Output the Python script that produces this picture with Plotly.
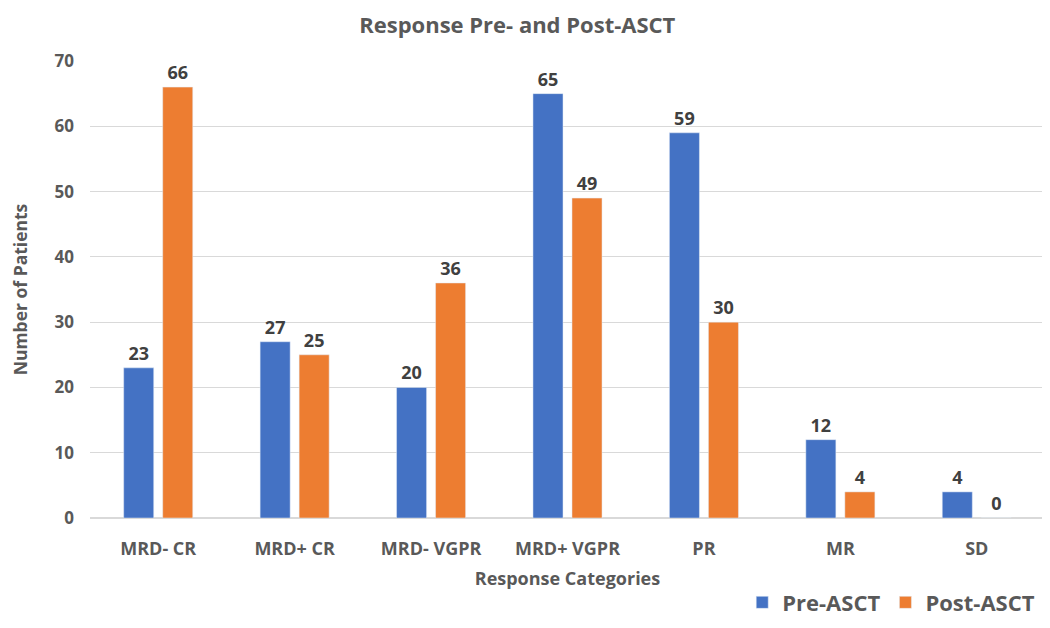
import plotly.graph_objects as go

categories = ["MRD- CR", "MRD+ CR", "MRD- VGPR", "MRD+ VGPR", "PR", "MR", "SD"]
pre_asct = [23, 27, 20, 65, 59, 12, 4]
post_asct = [66, 25, 36, 49, 30, 4, 0]

FONT = "Open Sans"
GRAY = "#595959"

fig = go.Figure()
fig.add_trace(go.Bar(name="<b>Pre-ASCT</b>", x=categories, y=pre_asct, marker_color="#4472C4",
                     text=pre_asct, textposition="outside", cliponaxis=False,
                     textfont=dict(family=FONT, size=18, color="#404040", weight="bold")))
fig.add_trace(go.Bar(name="<b>Post-ASCT</b>", x=categories, y=post_asct, marker_color="#ED7D31",
                     text=post_asct, textposition="outside", cliponaxis=False,
                     textfont=dict(family=FONT, size=18, color="#404040", weight="bold")))

fig.update_layout(
    width=1050, height=628,
    margin=dict(l=82, r=13, t=53, b=108),
    paper_bgcolor="white", plot_bgcolor="white",
    barmode="group", bargap=0.428, bargroupgap=0.23,
    font=dict(family=FONT, color=GRAY),
    title=dict(text="<b>Response Pre- and Post-ASCT</b>", x=0.485, xanchor="center",
               y=0.972, yanchor="middle", font=dict(family=FONT, size=22, color=GRAY)),
    xaxis=dict(title=dict(text="<b>Response Categories</b>", font=dict(size=18, color=GRAY), standoff=13),
               tickfont=dict(size=18, color=GRAY, weight="bold"), showline=True, linecolor="#d9d9d9",
               linewidth=1, ticks="", ticklabelstandoff=14, automargin=False),
    yaxis=dict(title=dict(text="<b>Number of Patients</b>", font=dict(size=17.5, color=GRAY), standoff=26),
               range=[0, 70], dtick=10, tickfont=dict(size=17, color=GRAY, weight="bold"),
               gridcolor="#d9d9d9", gridwidth=1, zeroline=True, zerolinecolor="#d9d9d9",
               ticks="", ticklen=0, ticklabelstandoff=15, automargin=False),
    legend=dict(orientation="h", x=0.995, xanchor="right", y=-0.185, yanchor="middle",
                font=dict(size=22, color=GRAY), itemwidth=30, traceorder="normal"),
)

fig.write_html("out.html")
